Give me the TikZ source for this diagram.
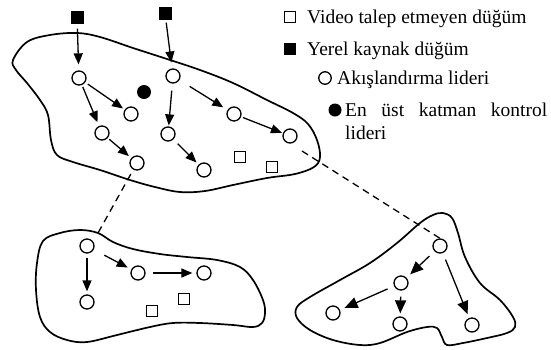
\documentclass[tikz,border=0pt]{standalone}
\usepackage{fontspec}
\setmainfont{Liberation Serif}
\usetikzlibrary{arrows.meta}

\begin{document}
\begin{tikzpicture}[x=1pt,y=-1pt,
  peer/.style={circle,draw,line width=1.3pt,minimum size=14pt,inner sep=0pt},
  leader/.style={circle,fill,minimum size=14pt,inner sep=0pt},
  srcbox/.style={rectangle,fill,minimum size=13pt,inner sep=0pt},
  idlebox/.style={rectangle,draw,line width=1.3pt,minimum size=11pt,inner sep=0pt},
  flow/.style={line width=1.3pt,-{Triangle[length=11pt,width=9pt]}},
  bigflow/.style={line width=1.3pt,-{Triangle[length=13pt,width=11pt]}},
  link/.style={line width=1.3pt,dash pattern=on 7pt off 5pt},
  region/.style={line width=1.7pt},
  legtext/.style={anchor=base west,inner sep=0pt,font=\fontsize{19.5}{23}\selectfont},
]
\useasboundingbox (0,0) rectangle (551,349);

% ---- cluster outlines
\draw[region] plot[smooth cycle,tension=0.6] coordinates {
  (13,60) (27,42) (50,35) (77,33) (100,37) (133,48) (167,59) (200,70)
  (233,83) (267,100) (293,113) (308,124) (317,140) (320,157) (314,167)
  (295,174) (267,178) (233,185) (205,191) (180,192) (155,187) (130,180)
  (100,170) (73,162) (57,155) (51,140) (48,115) (40,100) (27,83) (16,70)};

\draw[region] plot[smooth cycle,tension=0.6] coordinates {
  (43,241) (60,233) (80,230) (98,233) (113,242) (133,249) (160,254)
  (187,257) (217,260) (240,267) (253,280) (263,300) (265,313) (262,323)
  (253,327) (233,325) (200,323) (173,323) (150,327) (117,335) (87,342)
  (67,340) (50,332) (40,317) (36,290) (37,263)};

\draw[region] plot[smooth cycle,tension=0.6] coordinates {
  (420,223) (433,215) (443,213) (452,218) (458,233) (465,257) (480,283)
  (500,300) (513,317) (515,327) (507,333) (487,338) (463,343) (447,345)
  (442,337) (437,328) (427,327) (407,332) (380,343) (360,345) (333,340)
  (310,330) (297,318) (297,307) (310,297) (340,280) (370,263) (397,243)};

% ---- upper cluster
\node[srcbox] (s1) at (77,17) {};
\node[srcbox] (s2) at (165,13) {};
\node[peer] (A) at (79,78) {};
\node[peer] (B) at (131,114) {};
\node[leader] (K) at (144,92) {};
\node[peer] (C) at (173,76) {};
\node[peer] (D) at (102,133) {};
\node[peer] (E) at (137,163) {};
\node[peer] (F) at (168,134) {};
\node[peer] (G) at (204,170) {};
\node[peer] (H) at (234,114) {};
\node[peer] (I) at (290,136) {};
\node[idlebox] (q1) at (240,157) {};
\node[idlebox] (q2) at (272,167) {};

\draw[flow,shorten <=5pt,shorten >=6pt] (s1) -- (A);
\draw[flow,shorten <=3pt,shorten >=6pt] (s2) -- (C);
\draw[flow,shorten <=3pt,shorten >=2pt] (A) -- (B);
\draw[flow,shorten <=2pt,shorten >=4pt] (A) -- (D);
\draw[flow,shorten <=2pt,shorten >=3pt] (D) -- (E);
\draw[flow,shorten <=7pt,shorten >=1pt] (C) -- (F);
\draw[flow,shorten <=12pt,shorten >=5pt] (C) -- (H);
\draw[flow,shorten <=6pt,shorten >=3pt] (F) -- (G);
\draw[flow,shorten <=2pt,shorten >=1pt] (H) -- (I);

% ---- lower left cluster
\node[peer] (L1) at (87,246) {};
\node[peer] (L2) at (87,302) {};
\node[peer] (L3) at (138,273) {};
\node[peer] (L4) at (204,273) {};
\node[idlebox] (q3) at (152,311) {};
\node[idlebox] (q4) at (184,299) {};

\draw[flow,shorten <=4pt,shorten >=3pt] (L1) -- (L2);
\draw[flow,shorten <=12pt,shorten >=4pt] (L1) -- (L3);
\draw[flow,shorten <=7pt,shorten >=4pt] (L3) -- (L4);

% ---- lower right cluster
\node[peer] (R1) at (440,246) {};
\node[peer] (R2) at (401,283) {};
\node[peer] (R3) at (333,313) {};
\node[peer] (R4) at (400,324) {};
\node[peer] (R5) at (472,325) {};

\draw[bigflow,shorten <=7pt,shorten >=5pt] (R1) -- (R2);
\draw[bigflow,shorten <=7pt,shorten >=5pt] (R2) -- (R3);
\draw[bigflow,shorten <=6pt,shorten >=3pt] (R2) -- (R4);
\draw[bigflow,shorten <=7pt,shorten >=4pt] (R1) -- (R5);

% ---- links between clusters
\coordinate (e1) at (98,233);
\coordinate (i1) at (302,151);
\draw[link,shorten <=5pt] (E) -- (e1);
\draw[link] (i1) -- (R1.north);

% ---- legend
\node[idlebox,minimum size=10.5pt] (k1) at (290,17) {};
\node[legtext] (t1) at (307,23) {Video talep etmeyen düğüm};
\node[srcbox,minimum size=12pt] (k2) at (290,49) {};
\node[legtext] (t2) at (307,55) {Yerel kaynak düğüm};
\node[peer,minimum size=12.5pt] (k3) at (325,78) {};
\node[legtext] (t3) at (337,84) {Akışlandırma lideri};
\node[leader,minimum size=13pt] (k4) at (335,110) {};
\node[legtext] (t4) at (345,116) {\makebox[202pt][s]{En üst katman kontrol}};
\node[legtext] (t5) at (345,139) {lideri};
\end{tikzpicture}
\end{document}
